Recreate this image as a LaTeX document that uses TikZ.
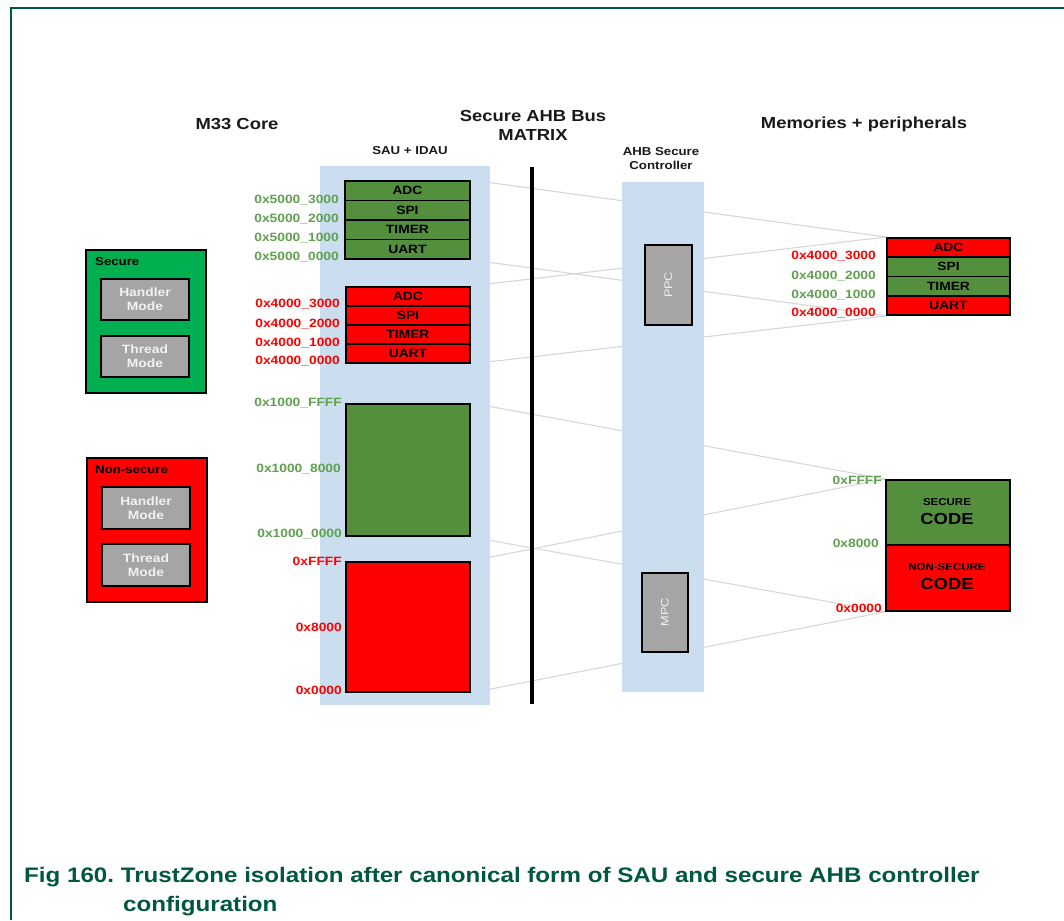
\documentclass[tikz,border=0pt]{standalone}
\usepackage{fontspec}
\setmainfont{Liberation Sans}[FakeStretch=1.15]
\definecolor{frameg}{RGB}{0,88,64}
\definecolor{cellg}{RGB}{84,143,62}
\definecolor{labg}{RGB}{96,160,80}
\definecolor{secg}{RGB}{0,176,80}
\definecolor{redc}{RGB}{255,0,0}
\definecolor{grayb}{RGB}{165,165,165}
\definecolor{panelc}{RGB}{202,222,239}
\definecolor{wirec}{RGB}{215,215,215}
\definecolor{modetxt}{RGB}{242,242,242}
\newcommand\fsz[2]{\fontsize{#1}{#2}\selectfont}
\pgfdeclarelayer{wires}
\pgfdeclarelayer{panels}
\pgfsetlayers{wires,panels,main}
\frenchspacing
\begin{document}
\begin{tikzpicture}[x=1pt,y=-1pt,
  cell/.style={draw=black,line width=1.9pt,minimum width=125pt,minimum height=19.5pt,inner sep=0pt,anchor=north west,font=\bfseries\fsz{12}{12}},
  gcell/.style={cell,fill=cellg},
  rcell/.style={cell,fill=redc},
  addr/.style={anchor=east,inner sep=0pt,font=\bfseries\fsz{12}{12}},
  gaddr/.style={addr,text=labg},
  raddr/.style={addr,text=redc},
  title/.style={font=\bfseries\fsz{16}{19},align=center,inner sep=0pt,text=black!90},
  subtitle/.style={font=\bfseries\fsz{11.5}{14},align=center,inner sep=0pt,text=black!90},
  panel/.style={fill=panelc,inner sep=0pt,anchor=north west},
  modebox/.style={draw=black,line width=1.9pt,fill=grayb,anchor=north west,inner sep=0pt,minimum width=88pt,minimum height=41pt,align=center,text=modetxt,font=\bfseries\fsz{12}{14}},
  corebox/.style={draw=black,line width=1.9pt,anchor=north west,inner sep=0pt,minimum width=120pt,minimum height=143pt},
  ctrlbox/.style={draw=black,line width=1.9pt,fill=grayb,anchor=north west,inner sep=0pt,minimum width=47pt,minimum height=80pt},
  wire/.style={draw=wirec,line width=1.1pt},
]
\useasboundingbox (0,0) rectangle (1064,920);
% frame
\draw[frameg,line width=1.3pt] (1064,8) -- (11,8) -- (11,920);

% titles
\node[title] (t1) at (237,124) {M33 Core};
\node[title] (t2) at (533,125) {Secure AHB Bus\\MATRIX};
\node[title] (t3) at (864,124) {Memories + peripherals};
\node[subtitle] (t4) at (410,151) {SAU + IDAU};
\node[subtitle] (t5) at (661,159) {AHB Secure\\Controller};

% panels
\begin{pgfonlayer}{panels}
\node[panel,minimum width=170pt,minimum height=539pt] (sau) at (320,166) {};
\node[panel,minimum width=82pt,minimum height=510pt] (ahb) at (622,182) {};
\end{pgfonlayer}

% bus matrix
\node[fill=black,inner sep=0pt,minimum width=4pt,minimum height=537pt,anchor=north] (bus) at (532,167) {};

% M33 core
\node[corebox,fill=secg] (sec) at (85,249) {};
\node[anchor=west,inner sep=0pt,font=\bfseries\fsz{11.5}{12}] (secl) at (95,262) {Secure};
\node[modebox] (sh) at (100,278) {Handler\\Mode};
\node[modebox] (st) at (100,335) {Thread\\Mode};
\node[corebox,fill=redc,minimum height=144pt] (nsec) at (86,457) {};
\node[anchor=west,inner sep=0pt,font=\bfseries\fsz{11.5}{12}] (nsecl) at (95,470) {Non-secure};
\node[modebox,minimum height=42pt] (nh) at (101,486) {Handler\\Mode};
\node[modebox,minimum height=42pt] (nt) at (101,543) {Thread\\Mode};

% SAU green peripherals
\node[gcell] (gs1) at (344,180) {ADC};
\node[gcell] (gs2) at (344,199.5) {SPI};
\node[gcell] (gs3) at (344,219) {TIMER};
\node[gcell] (gs4) at (344,238.5) {UART};
\node[gaddr] (ga1) at (339,200) {0x5000\_3000};
\node[gaddr] (ga2) at (339,219) {0x5000\_2000};
\node[gaddr] (ga3) at (339,238.5) {0x5000\_1000};
\node[gaddr] (ga4) at (339,257.5) {0x5000\_0000};

% SAU red peripherals
\node[rcell,minimum width=124pt,minimum height=19pt] (rs1) at (345,286) {ADC};
\node[rcell,minimum width=124pt,minimum height=19pt] (rs2) at (345,305) {SPI};
\node[rcell,minimum width=124pt,minimum height=19pt] (rs3) at (345,324) {TIMER};
\node[rcell,minimum width=124pt,minimum height=19pt] (rs4) at (345,343) {UART};
\node[raddr] (ra1) at (340,304.5) {0x4000\_3000};
\node[raddr] (ra2) at (340,324) {0x4000\_2000};
\node[raddr] (ra3) at (340,343) {0x4000\_1000};
\node[raddr] (ra4) at (340,361.5) {0x4000\_0000};

% SAU code regions
\node[gcell,minimum width=124pt,minimum height=132pt] (gbig) at (345,403) {};
\node[rcell,minimum width=124pt,minimum height=130pt] (rbig) at (345,561) {};
\node[gaddr] (gb1) at (342,403) {0x1000\_FFFF};
\node[gaddr] (gb2) at (341,469) {0x1000\_8000};
\node[gaddr] (gb3) at (342,534) {0x1000\_0000};
\node[raddr] (rb1) at (342,561) {0xFFFF};
\node[raddr] (rb2) at (342,627) {0x8000};
\node[raddr] (rb3) at (342,690) {0x0000};

% AHB secure controller
\node[ctrlbox] (ppc) at (644,244) {};
\node[rotate=90,text=modetxt,font=\fsz{11}{11},inner sep=0pt] (ppcl) at (ppc.center) {PPC};
\node[ctrlbox,minimum width=46pt,minimum height=79pt] (mpc) at (641,572) {};
\node[rotate=90,text=modetxt,font=\fsz{11}{11},inner sep=0pt] (mpcl) at (mpc.center) {MPC};

% memories + peripherals
\node[rcell,minimum width=123pt,minimum height=19.25pt] (rp1) at (886,237) {ADC};
\node[gcell,minimum width=123pt,minimum height=19.25pt] (rp2) at (886,256.25) {SPI};
\node[gcell,minimum width=123pt,minimum height=19.25pt] (rp3) at (886,275.5) {TIMER};
\node[rcell,minimum width=123pt,minimum height=19.25pt] (rp4) at (886,294.75) {UART};
\node[raddr] (pa1) at (876,256) {0x4000\_3000};
\node[gaddr] (pa2) at (876,276) {0x4000\_2000};
\node[gaddr] (pa3) at (876,295) {0x4000\_1000};
\node[raddr] (pa4) at (876,313) {0x4000\_0000};

\node[gcell,minimum width=124pt,minimum height=65pt] (scode) at (885,479) {};
\node[rcell,minimum width=124pt,minimum height=66pt] (nscode) at (885,544) {};
\node[font=\bfseries\fsz{10}{10},inner sep=0pt] (sc1) at (947,502) {SECURE};
\node[font=\bfseries\fsz{16}{16},inner sep=0pt] (sc2) at (947,519) {CODE};
\node[font=\bfseries\fsz{10}{10},inner sep=0pt] (nc1) at (947,567) {NON-SECURE};
\node[font=\bfseries\fsz{16}{16},inner sep=0pt] (nc2) at (947,584) {CODE};
\node[gaddr] (ca1) at (882,480) {0xFFFF};
\node[gaddr] (ca2) at (879,543) {0x8000};
\node[raddr] (ca3) at (882,608) {0x0000};

% connectors
\begin{pgfonlayer}{wires}
\draw[wire] (gs1.north east) -- (rp1.north west);
\draw[wire] (gs4.south east) -- (rp4.south west);
\draw[wire] (rs1.north east) -- (rp1.north west);
\draw[wire] (rs4.south east) -- (rp4.south west);
\draw[wire] (gbig.north east) -- (scode.north west);
\draw[wire] (gbig.south east) -- (nscode.south west);
\draw[wire] (rbig.north east) -- (scode.north west);
\draw[wire] (rbig.south east) -- (nscode.south west);
\end{pgfonlayer}

% caption
\node[anchor=base west,inner sep=0pt,text=frameg,font=\bfseries\fsz{21}{21}] (cap1) at (24,882) {Fig 160. TrustZone isolation after canonical form of SAU and secure AHB controller};
\node[anchor=base west,inner sep=0pt,text=frameg,font=\bfseries\fsz{21}{21}] (cap2) at (123,911) {configuration};
\end{tikzpicture}
\end{document}
